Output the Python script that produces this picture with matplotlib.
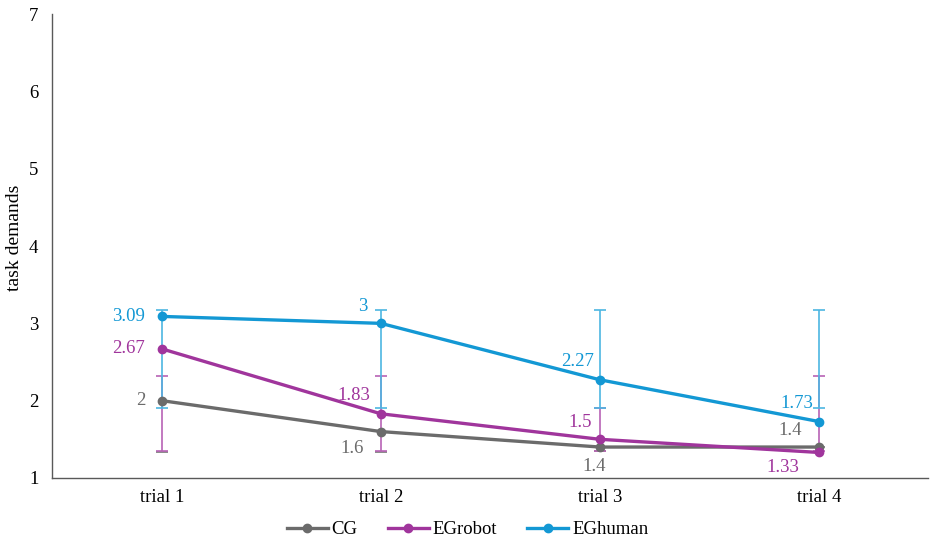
import matplotlib.pyplot as plt
import numpy as np

plt.rcParams['font.family'] = ['Liberation Serif', 'DejaVu Serif']

# Daten
trials = ["trial 1", "trial 2", "trial 3", "trial 4"]
cg = [2, 1.6, 1.4, 1.4]
eg_robot = [2.67, 1.83, 1.5, 1.33]
eg_human = [3.09, 3, 2.27, 1.73]

# Fehlerbalken (untere / obere Enden, aus dem Bild gelesen)
cg_low = [1.33, 1.33, 1.35, 1.4]
cg_high = [1.33, 1.33, 1.4, 1.4]
robot_low = [1.35, 1.35, 1.35, 1.35]
robot_high = [2.32, 2.32, 1.9, 2.32]
human_low = [1.9, 1.9, 1.9, 1.9]
human_high = [3.17, 3.17, 3.17, 3.17]

series = [
    ("CG", cg, cg_low, cg_high, "#6b6b6b", "#8a8a8a",
     [(-12, 0, "right"), (-12, -12, "right"),
      (-4, -14, "center"), (-12, 12, "right")]),
    ("EGrobot", eg_robot, robot_low, robot_high, "#a0359c", "#b862b5",
     [(-12, 0, "right"), (-8, 13, "right"),
      (-6, 12, "right"), (-14, -11, "right")]),
    ("EGhuman", eg_human, human_low, human_high, "#1398d4", "#4db6e2",
     [(-12, 0, "right"), (-10, 12, "right"),
      (-4, 13, "right"), (-4, 13, "right")]),
]

x = np.arange(len(trials))

fig = plt.figure(figsize=(9.35, 5.45), dpi=100)
ax = fig.add_axes([0.056, 0.123, 0.937, 0.851])

# Fehlerbalken direkt von lo bis hi zeichnen (Enden liegen nicht um den Mittelwert)
for name, vals, lo, hi, col, ecol, offs in series:
    ax.vlines(x, lo, hi, colors=ecol, linewidth=1.2, zorder=2)
    ax.plot(x, lo, linestyle="none", marker="_", markersize=8,
            markeredgewidth=1.2, color=ecol, zorder=2)
    ax.plot(x, hi, linestyle="none", marker="_", markersize=8,
            markeredgewidth=1.2, color=ecol, zorder=2)

for name, vals, lo, hi, col, ecol, offs in series:
    ax.plot(x, vals, color=col, linewidth=2.4, marker="o", markersize=6,
            label=name, zorder=3)
    for xi, v, (dx, dy, ha) in zip(x, vals, offs):
        ax.annotate(f"{v:g}", (xi, v), xytext=(dx, dy),
                    textcoords="offset points", ha=ha, va="center",
                    color=col, fontsize=13.5)

ax.set_xlim(-0.5, 3.5)
ax.set_ylim(1, 7)
ax.set_xticks(x)
ax.set_xticklabels(trials)
ax.set_yticks(range(1, 8))
ax.tick_params(length=0, labelsize=13.5, pad=8)
ax.tick_params(axis="y", pad=10)
for s in ["top", "right"]:
    ax.spines[s].set_visible(False)
for s in ["left", "bottom"]:
    ax.spines[s].set_color("#595959")
    ax.spines[s].set_linewidth(1.0)

fig.text(0.016, 0.563, "task demands", rotation=90, ha="center", va="center",
         fontsize=14)

fig.legend(*ax.get_legend_handles_labels(), loc="center",
           bbox_to_anchor=(0.5, 0.028), ncol=3, frameon=False, fontsize=13.5,
           handlelength=2.2, handletextpad=0.2, columnspacing=1.6)

fig.savefig("out.png", dpi=100)
